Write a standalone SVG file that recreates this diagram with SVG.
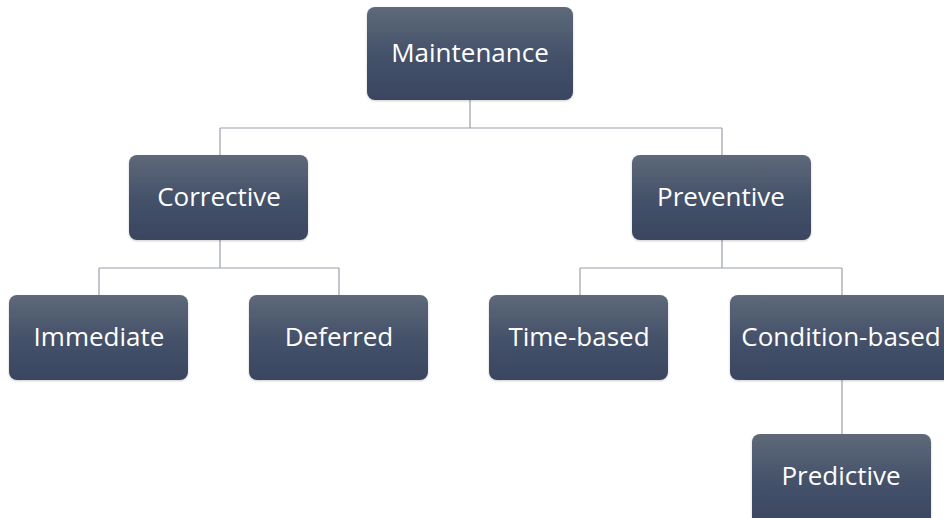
<svg xmlns="http://www.w3.org/2000/svg" width="944" height="518" viewBox="0 0 944 518">
<defs>
<linearGradient id="g" x1="0" y1="0" x2="0" y2="1">
<stop offset="0" stop-color="#5e6979"/>
<stop offset="0.5" stop-color="#45526a"/>
<stop offset="1" stop-color="#3a4660"/>
</linearGradient>
<filter id="sh" x="-10%" y="-10%" width="120%" height="130%">
<feDropShadow dx="0" dy="1" stdDeviation="1" flood-color="#000" flood-opacity="0.2"/>
</filter>
</defs>
<style>
.box{fill:url(#g);filter:url(#sh)}
.t{font-family:"Open Sans","Noto Sans",sans-serif;font-size:26px;fill:#ffffff;text-anchor:middle;dominant-baseline:central}
.c{stroke:#9aa0a8;stroke-width:1.2;fill:none}
</style>
<rect width="944" height="518" fill="#ffffff"/>
<g id="connectors">
<path class="c" d="M470 100V128M220 128H722M220 128V155M722 128V155"/>
<path class="c" d="M220 240V268M99 268H339M99 268V295M339 268V295"/>
<path class="c" d="M722 240V268M580 268H842M580 268V295M842 268V295"/>
<path class="c" d="M842 380V434"/>
</g>
<g id="maintenance"><rect class="box" x="367" y="7" width="206" height="93" rx="8"/><text class="t" x="470" y="52">Maintenance</text></g>
<g id="corrective"><rect class="box" x="129" y="155" width="179" height="85" rx="8"/><text class="t" x="219" y="196">Corrective</text></g>
<g id="preventive"><rect class="box" x="632" y="155" width="179" height="85" rx="8"/><text class="t" x="721" y="196">Preventive</text></g>
<g id="immediate"><rect class="box" x="9" y="295" width="179" height="85" rx="8"/><text class="t" x="99" y="336">Immediate</text></g>
<g id="deferred"><rect class="box" x="249" y="295" width="179" height="85" rx="8"/><text class="t" x="339" y="336">Deferred</text></g>
<g id="time-based"><rect class="box" x="489" y="295" width="179" height="85" rx="8"/><text class="t" x="579" y="336">Time-based</text></g>
<g id="condition-based"><rect class="box" x="730" y="295" width="224" height="85" rx="8"/><text class="t" x="841" y="336">Condition-based</text></g>
<g id="predictive"><rect class="box" x="752" y="434" width="179" height="94" rx="8"/><text class="t" x="841" y="475">Predictive</text></g>
</svg>
